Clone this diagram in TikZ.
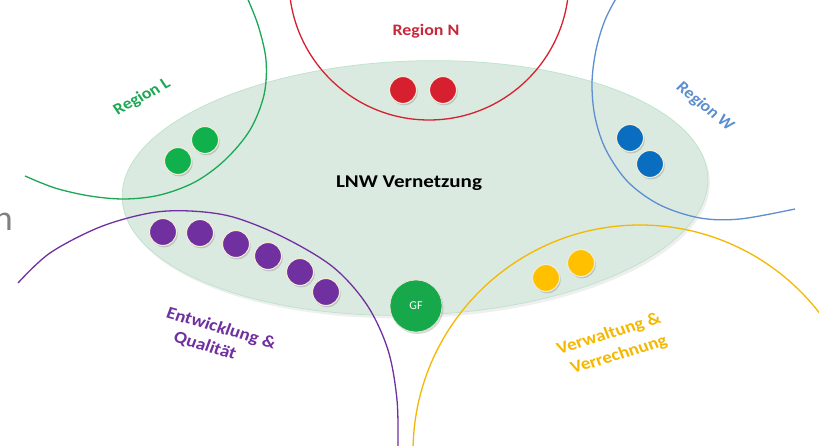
\documentclass[tikz,border=0pt]{standalone}
\usepackage{fontspec}
\setmainfont{Carlito}
\usetikzlibrary{shapes.geometric,shadows}
\definecolor{ellfill}{RGB}{218,234,224}
\definecolor{elldraw}{RGB}{190,228,205}
\definecolor{cN}{RGB}{214,32,47}
\definecolor{cNt}{RGB}{200,40,58}
\definecolor{cL}{RGB}{26,168,84}
\definecolor{cLd}{RGB}{16,176,77}
\definecolor{cW}{RGB}{92,142,208}
\definecolor{cWd}{RGB}{10,110,192}
\definecolor{cE}{RGB}{112,48,160}
\definecolor{cY}{RGB}{245,184,0}
\definecolor{cYd}{RGB}{255,192,0}
\definecolor{cGF}{RGB}{24,168,76}
\definecolor{rim}{RGB}{240,236,214}
\definecolor{stray}{RGB}{128,128,128}
\tikzset{
  regline/.style={line width=1.3pt},
  dot/.style={circle, fill=#1, draw=rim, line width=1.1pt, minimum size=27pt, inner sep=0pt,
    drop shadow={opacity=0.35, shadow xshift=1.2pt, shadow yshift=-1.8pt}},
  lbl/.style={font=\bfseries\fontsize{16}{19}\selectfont, inner sep=0pt, xscale=1.12},
  biglbl/.style={font=\bfseries\fontsize{17}{20}\selectfont, inner sep=0pt, xscale=1.12},
}
\begin{document}
\begin{tikzpicture}[x=1pt,y=-1pt]
\useasboundingbox (0,0) rectangle (819,446);
\clip (0,0) rectangle (819,446);
\fill[white] (0,0) rectangle (819,446);

% central ellipse
\node[ellipse, fill=ellfill, draw=elldraw, line width=0.8pt, minimum width=586pt, minimum height=254pt,
  rotate=2, drop shadow={opacity=0.12, shadow xshift=2pt, shadow yshift=-3pt}] (ell) at (415,188) {};

% region outlines
\draw[regline, cN] (429,-20) circle [radius=140];
\draw[regline, cL] plot[smooth, tension=0.55] coordinates {(246,-5) (258,25) (266,60) (264,95) (250,130) (225,160) (195,182) (160,195) (125,199) (90,196) (55,188) (25,176)};
\draw[regline, cW] plot[smooth, tension=0.55] coordinates {(618,-5) (605,20) (596,50) (592,83) (595,117) (606,150) (628,182) (660,205) (700,218) (740,219) (795,209)};
\draw[regline, cE] plot[smooth, tension=0.55] coordinates {(18,283) (50,253) (100,227) (150,213) (190,211) (233,217) (283,237) (333,267) (367,305) (388,350) (397,400) (398,450)};
\draw[regline, cY] (640,452) circle [radius=227];

% dots
\node[dot=cN] (n1) at (403,90) {};
\node[dot=cN] (n2) at (443,90) {};
\node[dot=cLd] (l1) at (178,161) {};
\node[dot=cLd] (l2) at (205,140) {};
\node[dot=cWd] (w1) at (630,138) {};
\node[dot=cWd] (w2) at (650,164) {};
\node[dot=cE] (e1) at (163,232) {};
\node[dot=cE] (e2) at (200,233) {};
\node[dot=cE] (e3) at (236,244) {};
\node[dot=cE] (e4) at (268,256) {};
\node[dot=cE] (e5) at (300,272) {};
\node[dot=cE] (e6) at (326,292) {};
\node[dot=cYd] (y1) at (546,278) {};
\node[dot=cYd] (y2) at (581,263) {};
\node[circle, fill=cGF, draw=rim, line width=0.6pt, minimum size=52pt, inner sep=0pt,
  drop shadow={opacity=0.3, shadow xshift=1.5pt, shadow yshift=-2pt},
  text=white, font=\fontsize{12}{14}\selectfont] (gf) at (416,306) {GF};

% labels
\node[lbl, text=cNt] (tN) at (426,31) {Region N};
\node[font=\bfseries\fontsize{18}{21}\selectfont, inner sep=0pt, xscale=1.17, text=black] (tLNW) at (409,183) {LNW Vernetzung};
\node[lbl, text=cL, rotate=31] (tL) at (142,97) {Region L};
\node[lbl, text=cW, rotate=-42] (tW) at (705,107) {Region W};
\node[biglbl, text=cE, rotate=-18] (tE1) at (221,329) {Entwicklung \&};
\node[biglbl, text=cE, rotate=-18] (tE2) at (205,346) {Qualität};
\node[biglbl, text=cY, rotate=19] (tV1) at (609,334) {Verwaltung \&};
\node[biglbl, text=cY, rotate=19] (tV2) at (619,355) {Verrechnung};
\node[font=\fontsize{36}{40}\selectfont, text=stray, anchor=base east, inner sep=0pt] (tn) at (13,231) {n};
\end{tikzpicture}
\end{document}
